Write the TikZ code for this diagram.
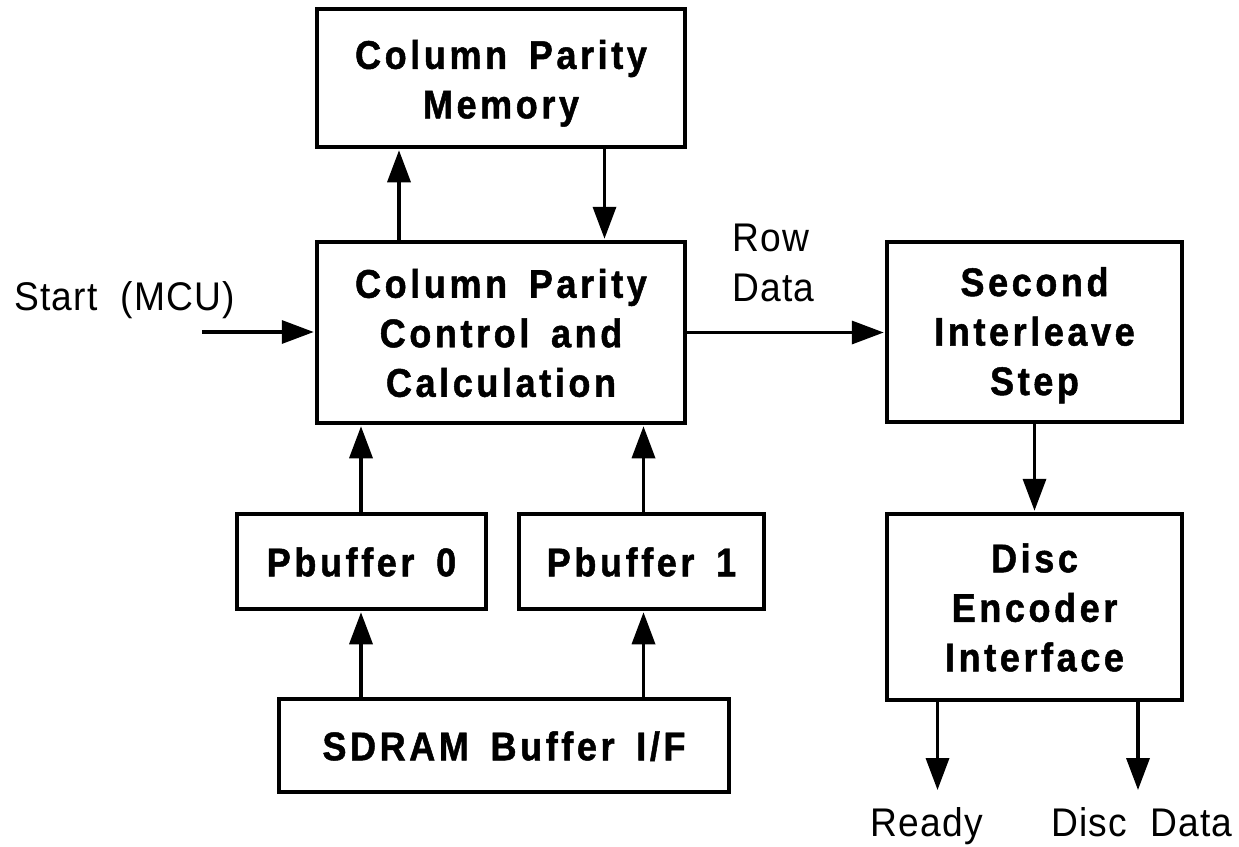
\documentclass[tikz,border=0pt]{standalone}
\usepackage{fontspec}
\setmainfont{Liberation Sans}[FakeStretch=0.93,LetterSpace=3,WordSpace=2]
\newfontfamily\boxfont{Liberation Sans}[FakeStretch=0.9,LetterSpace=9,WordSpace=1.6,BoldFeatures={FakeBold=1.2}]
\usetikzlibrary{arrows.meta}
\newcommand\mystrut{\rule[-6pt]{0pt}{41.5pt}}
\newcommand\memstrut{\rule[-4pt]{0pt}{43.5pt}}
\tikzset{
  blk/.style={draw, line width=3.5pt, inner sep=0pt, align=center,
    font=\boxfont\bfseries\fontsize{40pt}{49.5pt}\selectfont},
  lbl/.style={inner sep=0pt, font=\fontsize{40pt}{50pt}\selectfont},
  arr/.style={line width=3.5pt, shorten >=1.5pt, -{Triangle[length=32pt,width=23pt]}},
}
\begin{document}
\begin{tikzpicture}[x=1pt,y=-1pt]
\useasboundingbox (0,0) rectangle (1239,846);

% boxes
\node[blk, minimum width=368pt, minimum height=138pt] (mem) at (501,78)
  {\memstrut Column Parity\\\memstrut Memory};
\node[blk, minimum width=368pt, minimum height=181pt] (calc) at (501,332.5)
  {\mystrut Column Parity\\\mystrut Control and\\\mystrut Calculation};
\node[blk, minimum width=295pt, minimum height=180pt] (sec) at (1034.5,332)
  {\mystrut Second\\\mystrut Interleave\\\mystrut Step};
\node[blk, minimum width=295pt, minimum height=186pt] (disc) at (1034.5,607)
  {\mystrut Disc\\\mystrut Encoder\\\mystrut Interface};
\node[blk, minimum width=249pt, minimum height=95pt] (pb0) at (361.5,561.5)
  {\mystrut Pbuffer 0};
\node[blk, minimum width=245pt, minimum height=95pt] (pb1) at (641.5,561.5)
  {\mystrut Pbuffer 1};
\node[blk, minimum width=450pt, minimum height=93pt] (sdram) at (504,745.5)
  {\mystrut SDRAM Buffer I/F};

% labels
\node[lbl, anchor=base west] (start) at (14,310) {Start (MCU)};
\node[lbl, anchor=west, align=left] (row) at (732,262) {\mystrut Row\\\mystrut Data};
\node[lbl, anchor=base] (ready) at (927,836.5) {Ready};
\node[lbl, anchor=base] (ddata) at (1142,836.5) {Disc Data};

% helper coordinates
\coordinate (c1) at (399,0);
\coordinate (c2) at (604.5,0);
\coordinate (s0) at (202,332);
\coordinate (p0) at (361,0);
\coordinate (p1) at (643.5,0);
\coordinate (o1) at (937.5,790);
\coordinate (o2) at (1138,790);

% connectors
\draw[arr] (c1 |- calc.north) -- (c1 |- mem.south);
\draw[arr] (c2 |- mem.south) -- (c2 |- calc.north);
\draw[arr] (s0) -- (s0 -| calc.west);
\draw[arr] (calc.east) -- (calc.east -| sec.west);
\draw[arr] (sec.south) -- (disc.north);
\draw[arr] (p0 |- pb0.north) -- (p0 |- calc.south);
\draw[arr] (p0 |- sdram.north) -- (p0 |- pb0.south);
\draw[arr] (p1 |- pb1.north) -- (p1 |- calc.south);
\draw[arr] (p1 |- sdram.north) -- (p1 |- pb1.south);
\draw[arr, shorten >=0pt] (o1 |- disc.south) -- (o1);
\draw[arr, shorten >=0pt] (o2 |- disc.south) -- (o2);
\end{tikzpicture}
\end{document}
